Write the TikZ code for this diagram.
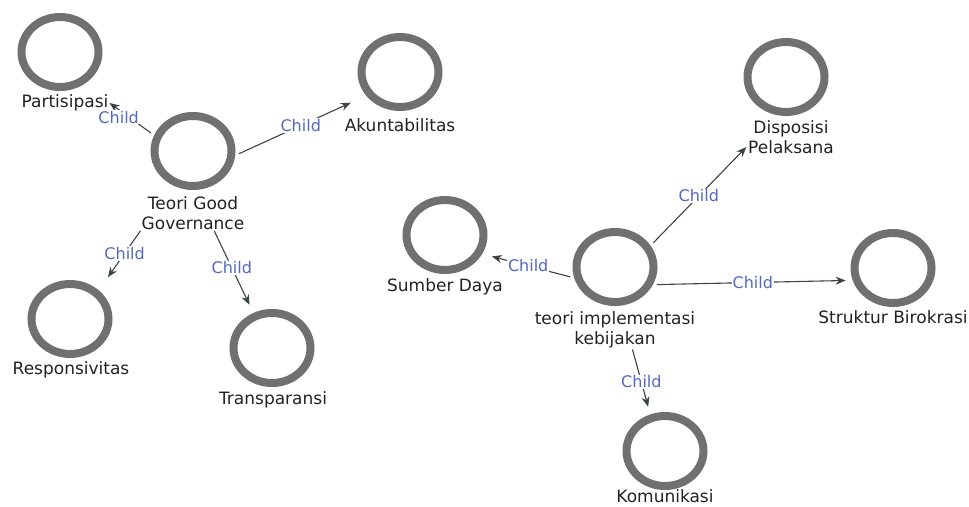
\documentclass[tikz,border=0pt]{standalone}
\usepackage{fontspec}
\setmainfont{DejaVu Sans}
\usetikzlibrary{arrows.meta,shapes.geometric}
\definecolor{ringgray}{HTML}{707070}
\definecolor{edgegray}{HTML}{3A4444}
\definecolor{childblue}{HTML}{5468C0}
\definecolor{textblack}{HTML}{222222}

\begin{document}
\begin{tikzpicture}[x=1pt, y=-1pt,
    concept/.style={ellipse, draw=ringgray, line width=8pt, minimum width=77pt, minimum height=70pt, inner sep=0pt},
    ctext/.style={text=textblack, font=\fontsize{17}{20}\selectfont, align=center, inner sep=1pt},
    childedge/.style={draw=edgegray, line width=1.1pt, -{Stealth[length=10pt,width=8pt]}, shorten <=4pt},
    childlabel/.style={text=childblue, fill=white, font=\fontsize{16}{18}\selectfont, inner sep=1pt}]
    \useasboundingbox (0,0) rectangle (969,506);

    % Teori Good Governance
    \node [concept] (tgg) at (193,151) {};
    \node [ctext] (tgg-t) at (193,213) {Teori Good\\Governance};
    \node [concept] (part) at (60,52) {};
    \node [ctext] (part-t) at (65,103) {Partisipasi};
    \node [concept] (akun) at (400,72) {};
    \node [ctext] (akun-t) at (400,125) {Akuntabilitas};
    \node [concept] (resp) at (70,319) {};
    \node [ctext] (resp-t) at (71,370) {Responsivitas};
    \node [concept] (trans) at (272,348) {};
    \node [ctext] (trans-t) at (273,400) {Transparansi};

    % teori implementasi kebijakan
    \node [concept] (tik) at (615,267) {};
    \node [ctext] (tik-t) at (615,330) {teori implementasi\\kebijakan};
    \node [concept] (sumb) at (445,235) {};
    \node [ctext] (sumb-t) at (445,287) {Sumber Daya};
    \node [concept] (disp) at (786,77) {};
    \node [ctext] (disp-t) at (791,137) {Disposisi\\Pelaksana};
    \node [concept] (strk) at (893,268) {};
    \node [ctext] (strk-t) at (893,317) {Struktur Birokrasi};
    \node [concept] (komu) at (665,451) {};
    \node [ctext] (komu-t) at (665,496) {Komunikasi};

    \draw [childedge] (tgg.158) -- (part-t.east) node [childlabel, pos=0.75, xshift=-2pt, yshift=-6pt] {Child};
    \draw [childedge, shorten >=17pt] (tgg.-6) -- (akun.215) node [childlabel, midway] {Child};
    \draw [childedge, shorten <=0pt, shorten >=16pt] (tgg-t.south west) -- (resp.45) node [childlabel, pos=0.38] {Child};
    \draw [childedge, shorten <=0pt, shorten >=9pt] (tgg-t.-40) -- (trans.118) node [childlabel, pos=0.45] {Child};

    \draw [childedge, shorten >=10pt] (tik.195) -- (sumb.-27) node [childlabel, midway] {Child};
    \draw [childedge, shorten >=1pt] (tik.31) -- (disp-t.192) node [childlabel, midway] {Child};
    \draw [childedge, shorten >=7pt] (tik.-25) -- (strk.197) node [childlabel, midway] {Child};
    \draw [childedge, shorten <=0pt, shorten >=8pt] (tik-t.-48) -- (komu.112) node [childlabel, midway] {Child};
\end{tikzpicture}
\end{document}
